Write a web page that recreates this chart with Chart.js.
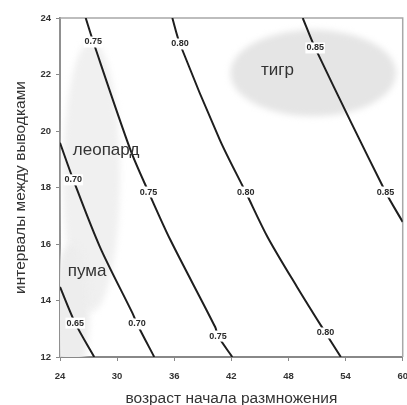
<!DOCTYPE html>
<html>
<head>
<meta charset="utf-8">
<script src="https://cdn.jsdelivr.net/npm/chart.js@4/dist/chart.umd.min.js"></script>
<style>
  html, body { margin: 0; padding: 0; background: #fff; overflow: hidden; }
  #wrap { width: 407px; height: 405px; overflow: hidden; }
</style>
</head>
<body>
<div id="wrap"><canvas id="chart" width="418" height="406"></canvas></div>
<script>
// contour levels and their traced points (x = возраст, y = интервал)
const levels = ["0.65", "0.70", "0.75", "0.80", "0.85"];

const curve065x = [24, 25.6, 27.6];
const curve065y = [14.48, 13.2, 12];

const curve070x = [24, 25.4, 28.2, 31.6, 32.1, 33.9];
const curve070y = [19.58, 18.27, 15.89, 13.56, 13.17, 12];

const curve075x = [26.7, 27.5, 31.4, 33.3, 35.6, 40.3, 40.6, 42.1];
const curve075y = [24, 23.15, 19.33, 17.84, 16.14, 13.06, 12.74, 12];

const curve080x = [35.8, 36.6, 40.8, 43.5, 45.8, 48.9, 51.9, 53.5];
const curve080y = [24, 23.08, 19.68, 17.84, 16.25, 14.48, 12.85, 12];

const curve085x = [49.5, 50.8, 58.2, 60];
const curve085y = [24, 22.94, 17.84, 16.78];

// where the level labels sit on each curve
const labelPoints = [
  [[25.6, 13.2]],
  [[25.4, 18.27], [32.1, 13.17]],
  [[27.5, 23.15], [33.3, 17.84], [40.6, 12.74]],
  [[36.6, 23.08], [43.5, 17.84], [51.9, 12.85]],
  [[50.8, 22.94], [58.2, 17.84]],
];

// species names
const species = ["леопард", "пума", "тигр"];
const speciesX = [28.84, 26.84, 46.84];
const speciesY = [19.33, 15.04, 22.16];

const xTicks = [24, 30, 36, 42, 48, 54, 60];
const yTicks = [12, 14, 16, 18, 20, 22, 24];

const curvesX = [curve065x, curve070x, curve075x, curve080x, curve085x];
const curvesY = [curve065y, curve070y, curve075y, curve080y, curve085y];

const datasets = levels.map((lev, i) => ({
  label: lev,
  data: curvesX[i].map((x, j) => ({ x: x, y: curvesY[i][j] })),
  showLine: true,
  pointRadius: 0,
  borderColor: "#1e1e1e",
  borderWidth: 2,
  tension: 0.3,
}));

const FONT = "'Liberation Sans', Arial, sans-serif";

// grey blobs behind the curves, plus frame
const backdrop = {
  id: "backdrop",
  beforeDatasetsDraw(chart) {
    const { ctx, chartArea: a, scales: { x, y } } = chart;
    ctx.save();
    ctx.beginPath();
    ctx.rect(a.left, a.top, a.right - a.left, a.bottom - a.top);
    ctx.clip();
    ctx.filter = "blur(3px)";
    const blob = (cx, cy, rx, ry, col) => {
      const px = x.getPixelForValue(cx);
      const py = y.getPixelForValue(cy);
      const w = x.getPixelForValue(cx + rx) - px;
      const h = py - y.getPixelForValue(cy + ry);
      ctx.fillStyle = col;
      ctx.beginPath();
      ctx.ellipse(px, py, w, h, 0, 0, Math.PI * 2);
      ctx.fill();
    };
    blob(27.3, 18.4, 3.0, 4.8, "#f0f0f0");
    blob(25.2, 13.6, 1.9, 2.4, "#ededed");
    blob(50.6, 22.05, 8.7, 1.53, "#e5e5e5");
    ctx.restore();

    ctx.save();
    ctx.strokeStyle = "#a8a8a8";
    ctx.lineWidth = 1.5;
    ctx.beginPath();
    ctx.moveTo(a.left, a.top);
    ctx.lineTo(a.right, a.top);
    ctx.lineTo(a.right, a.bottom);
    ctx.stroke();
    ctx.restore();
  },
  afterDatasetsDraw(chart) {
    const { ctx, scales: { x, y } } = chart;
    ctx.save();
    ctx.font = "bold 9px " + FONT;
    ctx.textAlign = "center";
    ctx.textBaseline = "middle";
    labelPoints.forEach((pts, i) => {
      pts.forEach((p) => {
        const px = x.getPixelForValue(p[0]);
        const py = y.getPixelForValue(p[1]);
        const w = ctx.measureText(levels[i]).width + 2;
        ctx.fillStyle = "#fff";
        ctx.fillRect(px - w / 2, py - 5.5, w, 11);
        ctx.fillStyle = "#2a2a2a";
        ctx.fillText(levels[i], px, py);
      });
    });
    ctx.font = "17px " + FONT;
    ctx.fillStyle = "#333";
    species.forEach((s, i) => {
      ctx.fillText(s, x.getPixelForValue(speciesX[i]), y.getPixelForValue(speciesY[i]));
    });
    ctx.restore();
  },
};

new Chart(document.getElementById("chart"), {
  type: "scatter",
  data: { datasets: datasets },
  options: {
    responsive: false,
    animation: false,
    layout: { padding: { top: 18, right: 10, left: 0, bottom: 0 } },
    plugins: { legend: { display: false }, tooltip: { enabled: false } },
    scales: {
      x: {
        type: "linear",
        min: 24,
        max: 60,
        afterBuildTicks: (s) => { s.ticks = xTicks.map((v) => ({ value: v })); },
        afterFit: (s) => { s.height = 49; },
        ticks: {
          padding: 10,
          color: "#333",
          font: { family: FONT, size: 9.5, weight: "bold" },
        },
        grid: { drawOnChartArea: false, tickLength: 4, color: "#888" },
        border: { color: "#888", width: 2 },
        title: {
          display: true,
          text: "возраст начала размножения",
          color: "#333",
          padding: 0,
          font: { family: FONT, size: 15.5, lineHeight: 1 },
        },
      },
      y: {
        type: "linear",
        min: 12,
        max: 24,
        afterBuildTicks: (s) => { s.ticks = yTicks.map((v) => ({ value: v })); },
        afterFit: (s) => { s.width = 60; },
        ticks: {
          padding: 5,
          color: "#333",
          font: { family: FONT, size: 9.5, weight: "bold" },
        },
        grid: { drawOnChartArea: false, tickLength: 4, color: "#888" },
        border: { color: "#909090", width: 2 },
        title: {
          display: true,
          text: "интервалы между выводками",
          color: "#333",
          padding: { top: 11, bottom: 0 },
          font: { family: FONT, size: 15.5, lineHeight: 1.2 },
        },
      },
    },
  },
  plugins: [backdrop],
});
</script>
</body>
</html>
